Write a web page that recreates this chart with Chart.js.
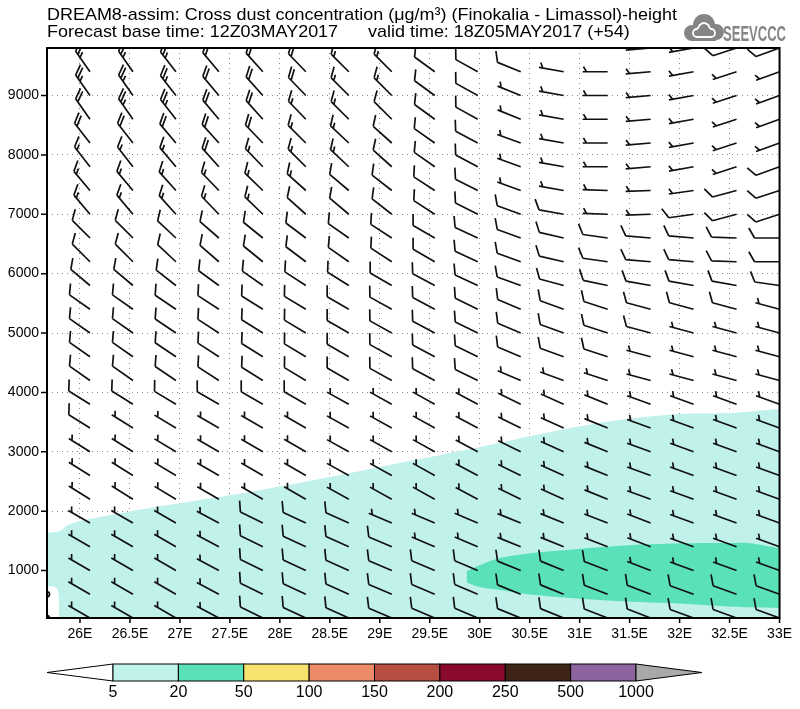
<!DOCTYPE html>
<html>
<head>
<meta charset="utf-8">
<script src="https://cdn.jsdelivr.net/npm/chart.js@4"></script>
<style>
  html, body { margin: 0; padding: 0; background: #fff; }
</style>
</head>
<body>
<canvas id="chart" width="800" height="709"></canvas>
<script>
// axis ticks
const lonTicks = [26, 26.5, 27, 27.5, 28, 28.5, 29, 29.5, 30, 30.5, 31, 31.5, 32, 32.5, 33];
const heightTicks = [1000, 2000, 3000, 4000, 5000, 6000, 7000, 8000, 9000];

// dust concentration contours (ug/m3), outlines
const cyanLon = [25.67, 25.80, 25.88, 26.0, 26.2, 26.7, 27.2, 27.7, 28.5, 29.3, 30.1, 30.8, 31.4, 32.0, 32.5, 33.0];
const cyanTop = [1632, 1665, 1766, 1834, 1901, 2053, 2187, 2322, 2575, 2844, 3114, 3366, 3535, 3636, 3653, 3720];
const greenLon = [29.87, 30.0, 30.2, 30.53, 30.87, 31.2, 31.53, 31.87, 32.2, 32.53, 32.7, 33.0];
const greenTop = [990, 1090, 1210, 1295, 1345, 1390, 1430, 1450, 1463, 1465, 1460, 1380];
const greenBottom = [800, 722, 672, 590, 540, 503, 475, 453, 425, 390, 380, 368];
const clearLon = [25.67, 25.72, 25.76, 25.78, 25.79, 25.79];
const clearTop = [730, 735, 715, 660, 500, 200];

// wind barbs: columns along the section and levels (m)
const barbLons = [25.67, 26.10, 26.53, 26.96, 27.39, 27.83, 28.26, 28.69, 29.12, 29.55, 29.98, 30.41, 30.84, 31.28, 31.71, 32.14, 32.57, 33.00];
const barbLevels = [9800, 9400, 9000, 8600, 8200, 7800, 7400, 7000, 6600, 6200, 5800, 5400, 5000, 4600, 4200, 3800, 3400, 3000, 2600, 2200, 1800, 1400, 1000, 600, 200];

// speed in knots, one row per level (top to bottom)
const windSpeed = [
  [25,25,25,25,20,20,20,15,15,10,10,10,5,5,5,5,10,10],
  [25,25,25,25,20,20,20,15,15,10,10,10,5,5,5,5,5,5],
  [25,25,25,25,20,20,20,15,15,10,10,5,5,5,5,5,5,5],
  [25,20,25,25,20,20,15,15,10,10,10,5,5,5,5,5,5,5],
  [20,20,20,20,20,20,15,15,10,10,10,5,5,5,5,5,5,5],
  [15,15,15,15,20,15,15,15,10,10,10,5,5,5,5,5,5,10],
  [15,15,15,15,15,15,15,10,10,10,10,5,5,5,5,5,10,10],
  [15,15,15,15,15,15,10,10,10,10,10,10,10,5,5,10,10,10],
  [10,10,10,10,10,10,10,10,10,10,10,10,10,10,10,10,10,10],
  [10,10,10,10,10,10,10,10,10,10,10,10,10,10,10,10,10,10],
  [10,10,10,10,10,10,10,10,10,10,10,10,10,10,10,10,10,10],
  [10,10,10,10,10,10,10,10,10,10,10,10,10,10,10,10,10,5],
  [10,10,10,10,10,10,10,10,10,10,10,10,10,10,10,5,5,5],
  [10,10,10,10,10,10,10,10,10,10,10,10,10,10,5,5,5,5],
  [10,10,10,10,10,10,10,10,10,10,10,5,5,5,5,5,5,5],
  [10,10,10,10,10,10,10,5,5,5,5,5,5,5,5,5,5,5],
  [10,10,5,5,5,5,5,5,5,5,5,5,5,5,5,5,5,5],
  [5,5,5,5,5,5,5,5,5,5,5,5,5,5,5,5,5,5],
  [5,5,5,5,5,5,5,5,5,5,5,5,5,5,5,5,5,5],
  [5,5,5,5,5,5,5,5,5,5,5,5,5,5,5,5,5,5],
  [5,5,5,5,5,10,10,10,5,5,5,5,5,5,5,5,5,5],
  [5,5,5,5,5,10,10,10,10,5,5,5,5,5,5,5,5,5],
  [5,5,5,5,5,10,10,10,10,10,10,10,10,10,5,5,5,5],
  [0,5,5,5,5,10,10,10,10,10,10,10,10,10,10,10,10,10],
  [0,5,5,5,5,10,10,10,10,10,10,10,10,10,10,10,10,10]
];

// direction the wind blows from (deg), same layout
const windDir = [
  [325,325,325,322,320,318,316,315,315,306,299,292,280,270,265,260,252,250],
  [325,325,325,322,320,318,316,315,315,306,299,292,280,270,265,260,252,250],
  [325,325,325,322,320,318,316,315,315,306,299,292,280,270,265,260,252,250],
  [325,325,325,322,320,318,316,315,315,306,299,292,280,270,265,260,252,250],
  [322,322,322,320,318,316,315,313,312,305,298,290,280,270,265,260,252,250],
  [322,322,322,320,318,316,315,313,312,305,298,290,280,270,265,260,252,250],
  [320,320,320,318,316,314,312,310,308,303,297,290,280,272,268,262,255,252],
  [320,320,320,318,316,314,312,310,308,303,297,290,280,272,268,262,255,252],
  [315,315,315,313,311,309,307,305,303,300,295,290,283,278,275,275,272,270],
  [315,315,315,313,311,309,307,305,303,300,295,290,283,278,275,275,272,270],
  [310,310,310,308,306,305,303,302,300,298,295,290,285,282,280,280,280,278],
  [305,305,305,304,303,302,301,300,299,298,296,293,290,288,285,285,285,285],
  [305,305,305,304,303,302,301,300,299,298,296,293,290,288,285,285,285,285],
  [305,305,305,304,303,302,301,300,299,298,296,293,290,288,285,285,285,285],
  [305,305,305,304,303,302,301,300,299,298,296,293,290,288,285,285,285,285],
  [302,302,302,301,300,300,300,299,299,299,298,296,294,292,290,290,290,290],
  [302,302,302,301,300,300,300,299,299,299,298,296,294,292,290,290,290,290],
  [302,302,302,301,300,300,300,299,299,299,298,296,294,292,290,290,290,290],
  [302,302,302,301,300,300,300,299,299,299,298,296,294,292,290,290,290,290],
  [302,302,302,301,300,300,300,299,299,299,298,296,294,292,290,290,290,290],
  [300,300,300,300,298,296,295,294,293,293,293,292,292,291,291,290,290,290],
  [300,300,300,300,298,296,295,294,293,293,293,292,292,291,291,290,290,290],
  [300,300,300,300,298,296,295,294,293,293,293,292,292,291,291,290,290,290],
  [300,300,300,300,298,296,295,294,293,293,293,292,292,291,291,290,290,290],
  [300,300,300,300,298,296,295,294,293,293,293,292,292,291,291,290,290,290]
];

// colour bar
const cbLevels = ['5', '20', '50', '100', '150', '200', '250', '500', '1000'];
const cbColors = ['#ffffff', '#c0f1ea', '#5be1b9', '#f8e36f', '#ec8b68', '#b84d42', '#8a0a2c', '#3e2417', '#8b64a0', '#a9a9a9'];

const titleLine1 = 'DREAM8-assim: Cross dust concentration (\u03bcg/m\u00b3) (Finokalia - Limassol)-height';
const titleLine2 = 'Forecast base time: 12Z03MAY2017      valid time: 18Z05MAY2017 (+54)';

const FONT = '"Liberation Sans", "DejaVu Sans", sans-serif';

function pts(xs, ys) {
  return xs.map((v, i) => ({x: v, y: ys[i]}));
}

function drawBarb(ctx, px, py, speed, dir) {
  if (speed === 0) {
    ctx.beginPath();
    ctx.arc(px, py, 2.5, 0, Math.PI * 2);
    ctx.stroke();
    return;
  }
  const staffLen = 25, fullLen = 11.5, halfLen = 6, gap = 3.8;
  const a = dir * Math.PI / 180;
  const ux = Math.sin(a), uy = -Math.cos(a);
  const tx = px + ux * staffLen, ty = py + uy * staffLen;
  // feathers leave the staff 60 deg round from it
  const c = Math.cos(Math.PI / 3), s = Math.sin(Math.PI / 3);
  const fx = ux * c - uy * s, fy = ux * s + uy * c;
  ctx.beginPath();
  ctx.moveTo(px, py);
  ctx.lineTo(tx, ty);
  const full = Math.floor(speed / 10);
  const half = speed % 10 >= 5;
  for (let i = 0; i < full; i++) {
    const bx = tx - ux * gap * i, by = ty - uy * gap * i;
    ctx.moveTo(bx, by);
    ctx.lineTo(bx + fx * fullLen, by + fy * fullLen);
  }
  if (half) {
    const k = full > 0 ? full : 1;
    const bx = tx - ux * gap * k, by = ty - uy * gap * k;
    ctx.moveTo(bx, by);
    ctx.lineTo(bx + fx * halfLen, by + fy * halfLen);
  }
  ctx.stroke();
}

function fitText(ctx, text, x, y, width) {
  const w = ctx.measureText(text).width;
  ctx.save();
  ctx.translate(x, y);
  ctx.scale(width / w, 1);
  ctx.fillText(text, 0, 0);
  ctx.restore();
}

const decorations = {
  id: 'decorations',
  afterDraw(chart) {
    const {ctx, chartArea: a, scales: {x, y}} = chart;

    // wind barbs, clipped to the plot
    ctx.save();
    ctx.beginPath();
    ctx.rect(a.left, a.top, a.right - a.left, a.bottom - a.top);
    ctx.clip();
    ctx.strokeStyle = '#111';
    ctx.lineWidth = 1.7;
    barbLevels.forEach((h, r) => {
      barbLons.forEach((lon, c) => {
        drawBarb(ctx, x.getPixelForValue(lon), y.getPixelForValue(h), windSpeed[r][c], windDir[r][c]);
      });
    });
    ctx.restore();

    // frame and tick marks
    ctx.save();
    ctx.strokeStyle = '#000';
    ctx.lineWidth = 2;
    ctx.strokeRect(a.left, a.top, a.right - a.left, a.bottom - a.top);
    ctx.lineWidth = 1.5;
    ctx.beginPath();
    lonTicks.forEach(v => {
      const px = x.getPixelForValue(v);
      ctx.moveTo(px, a.bottom);
      ctx.lineTo(px, a.bottom + 5);
    });
    heightTicks.forEach(v => {
      const py = y.getPixelForValue(v);
      ctx.moveTo(a.left - 6, py);
      ctx.lineTo(a.left, py);
    });
    ctx.stroke();
    ctx.restore();

    // titles, both lines with one horizontal squeeze
    ctx.save();
    ctx.fillStyle = '#000';
    ctx.font = '17px ' + FONT;
    ctx.textBaseline = 'alphabetic';
    const m1 = ctx.measureText(titleLine1).width;
    const m2 = ctx.measureText(titleLine2).width;
    const k = Math.min(585 / m2, 630 / m1);
    fitText(ctx, titleLine1, 47, 20, m1 * k);
    fitText(ctx, titleLine2, 47, 37, m2 * k);
    ctx.restore();

    // logo
    ctx.save();
    ctx.fillStyle = '#858585';
    ctx.beginPath();
    ctx.arc(692, 33, 8, 0, Math.PI * 2);
    ctx.arc(704, 25, 11, 0, Math.PI * 2);
    ctx.arc(716, 32, 8, 0, Math.PI * 2);
    ctx.fill();
    ctx.fillRect(692, 30, 24, 11);
    ctx.strokeStyle = '#fff';
    ctx.lineWidth = 1.8;
    ctx.beginPath();
    ctx.arc(697, 33, 4, Math.PI * 0.5, Math.PI * 1.5);
    ctx.arc(704, 28.5, 5.5, Math.PI * 1.1, Math.PI * 1.95);
    ctx.arc(711, 33, 4, Math.PI * 1.5, Math.PI * 0.5);
    ctx.closePath();
    ctx.stroke();
    ctx.font = 'bold 22px ' + FONT;
    fitText(ctx, 'SEEVCCC', 723, 41, 63);
    ctx.restore();

    // colour bar
    ctx.save();
    const cbLeft = 47, cbX0 = 113, cbX1 = 636, cbRight = 702, cbTop = 664, cbBot = 681;
    const bw = (cbX1 - cbX0) / (cbLevels.length - 1);
    const mid = (cbTop + cbBot) / 2;
    ctx.lineWidth = 1;
    ctx.strokeStyle = '#000';
    ctx.fillStyle = cbColors[0];
    ctx.beginPath();
    ctx.moveTo(cbX0, cbTop);
    ctx.lineTo(cbLeft, mid);
    ctx.lineTo(cbX0, cbBot);
    ctx.closePath();
    ctx.fill();
    ctx.stroke();
    for (let i = 0; i < cbLevels.length - 1; i++) {
      ctx.fillStyle = cbColors[i + 1];
      ctx.fillRect(cbX0 + i * bw, cbTop, bw, cbBot - cbTop);
      ctx.strokeRect(cbX0 + i * bw, cbTop, bw, cbBot - cbTop);
    }
    ctx.fillStyle = cbColors[cbColors.length - 1];
    ctx.beginPath();
    ctx.moveTo(cbX1, cbTop);
    ctx.lineTo(cbRight, mid);
    ctx.lineTo(cbX1, cbBot);
    ctx.closePath();
    ctx.fill();
    ctx.stroke();
    ctx.fillStyle = '#000';
    ctx.font = '16px ' + FONT;
    ctx.textAlign = 'center';
    ctx.textBaseline = 'middle';
    cbLevels.forEach((t, i) => ctx.fillText(t, cbX0 + i * bw, 693));
    ctx.restore();
  }
};

new Chart(document.getElementById('chart'), {
  type: 'scatter',
  data: {
    datasets: [
      {
        data: pts(clearLon, clearTop),
        showLine: true, borderWidth: 0, pointRadius: 0,
        fill: 'start', backgroundColor: '#ffffff', order: 1
      },
      {
        data: pts(greenLon, greenTop),
        showLine: true, borderWidth: 0, pointRadius: 0,
        fill: '+1', backgroundColor: cbColors[2], order: 2
      },
      {
        data: pts(greenLon, greenBottom),
        showLine: true, borderWidth: 0, pointRadius: 0,
        fill: false, order: 2
      },
      {
        data: pts(cyanLon, cyanTop),
        showLine: true, borderWidth: 0, pointRadius: 0,
        fill: 'start', backgroundColor: cbColors[1], order: 3
      }
    ]
  },
  options: {
    responsive: false,
    animation: false,
    devicePixelRatio: 1,
    layout: { padding: { top: 48, right: 20, left: 0, bottom: 0 } },
    plugins: { legend: { display: false }, tooltip: { enabled: false } },
    elements: { line: { tension: 0.3 } },
    scales: {
      x: {
        type: 'linear', min: 25.67, max: 33.0, z: 1,
        afterBuildTicks: s => { s.ticks = lonTicks.map(v => ({value: v})); },
        afterFit: s => { s.height = 91; },
        grid: { color: '#8a8a8a', lineWidth: 1, drawTicks: false },
        border: { display: false, dash: [1, 4] },
        ticks: {
          autoSkip: false, maxRotation: 0, padding: 8, color: '#000',
          font: { family: FONT, size: 14 },
          callback: v => v + 'E'
        }
      },
      y: {
        type: 'linear', min: 200, max: 9800, z: 1,
        afterBuildTicks: s => { s.ticks = heightTicks.map(v => ({value: v})); },
        afterFit: s => { s.width = 47; },
        grid: { color: '#8a8a8a', lineWidth: 1, drawTicks: false },
        border: { display: false, dash: [1, 4] },
        ticks: {
          autoSkip: false, padding: 8, color: '#000',
          font: { family: FONT, size: 14 },
          callback: v => String(v)
        }
      }
    }
  },
  plugins: [decorations]
});
</script>
</body>
</html>
